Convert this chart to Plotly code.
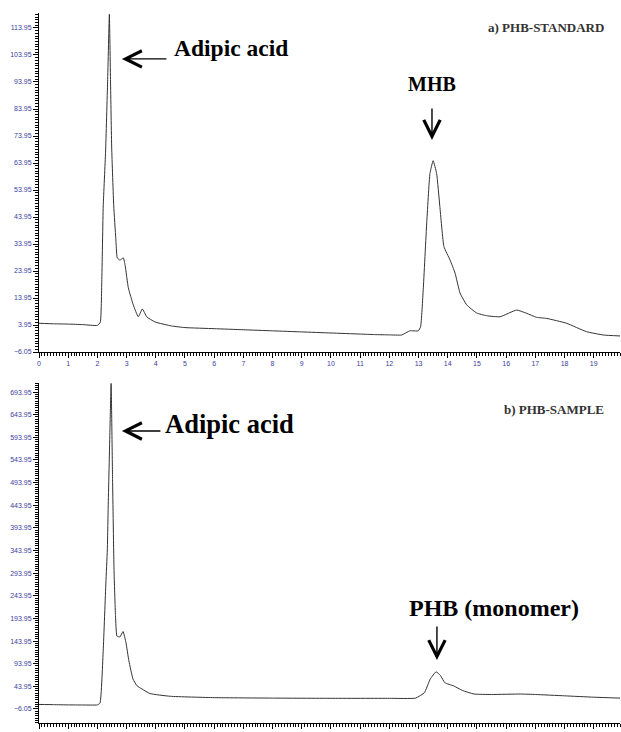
import plotly.graph_objects as go
from plotly.subplots import make_subplots

# ---- data (retention time in min, detector response) ----
time_a = [0, 0.5, 1.0, 1.5, 2.0, 2.1, 2.15, 2.2, 2.28, 2.35, 2.41, 2.45, 2.49, 2.56, 2.63, 2.68,
          2.77, 2.89, 2.95, 3.06, 3.23, 3.40, 3.54, 3.69, 3.97, 4.54, 5, 6, 7, 8, 9, 10, 11, 11.5,
          12, 12.42, 12.7, 12.99, 13.07, 13.16, 13.28, 13.39, 13.5, 13.62, 13.73, 13.87, 14.08,
          14.25, 14.42, 14.65, 14.99, 15.33, 15.79, 16.36, 16.7, 17.04, 17.39, 18.07, 18.75,
          19.33, 19.9]
signal_a = [4.6, 4.4, 4.3, 4.1, 3.8, 5.0, 20, 48, 68, 94, 119, 94, 69.5, 48, 36, 28.8,
            28, 28.8, 26, 17.7, 11.4, 7, 9.9, 7, 5.1, 3.6, 3.0, 2.6, 2.2, 1.8, 1.4, 1.0, 0.6, 0.4,
            0.3, 0.25, 1.8, 1.8, 3.3, 17, 41.7, 60, 64.8, 60, 47.8, 33, 28,
            23.2, 15.8, 11.4, 8.4, 7.4, 7.0, 9.5, 8.3, 6.8, 6.4, 4.6, 1.5,
            0.25, -0.1]

time_b = [0, 0.5, 1.0, 1.5, 2.0, 2.09, 2.2, 2.29, 2.34, 2.37, 2.43, 2.47, 2.52, 2.57, 2.62,
          2.67, 2.77, 2.88, 2.98, 3.08, 3.22, 3.36, 3.53, 3.8, 4.5, 6, 8, 10, 12, 12.9, 13.2,
          13.4, 13.6, 13.75, 13.9, 14.2, 14.5, 14.9, 15.5, 16.5, 17.0, 18.0, 19.0, 19.9]
signal_b = [4, 3.5, 3, 2.8, 3, 7, 124, 272, 345, 440, 610, 713, 500, 300, 200,
            155, 153, 165, 140, 100, 60, 45, 38, 28, 22, 19, 18, 17.5, 17.5, 18, 30,
            60, 76, 68, 52, 45, 35, 27, 26, 27, 26, 23, 20, 18]

x_ticks = list(range(0, 20))

W, H = 621, 732
fig = make_subplots(rows=2, cols=1)
fig.add_trace(go.Scatter(x=time_a, y=signal_a, mode="lines",
                         line=dict(color="#333333", width=1, shape="spline", smoothing=0.4),
                         showlegend=False), row=1, col=1)
fig.add_trace(go.Scatter(x=time_b, y=signal_b, mode="lines",
                         line=dict(color="#333333", width=1, shape="spline", smoothing=0.4),
                         showlegend=False), row=2, col=1)

tickfont = dict(family="Liberation Sans, Arial", size=7, color="#3d3d9e")
xcommon = dict(range=[0, 19.9], tickmode="array", tickvals=x_ticks, ticktext=[str(t) for t in x_ticks],
               showgrid=False, zeroline=False, showline=True, linecolor="black", linewidth=1,
               automargin=False,
               ticks="outside", ticklen=5, tickcolor="black", tickwidth=1, tickfont=tickfont,
               minor=dict(dtick=0.1, tick0=0, ticks="outside", ticklen=3, tickcolor="black", showgrid=False))
fig.update_xaxes(**xcommon, row=1, col=1)
fig.update_xaxes(**xcommon, row=2, col=1)

ycommon = dict(showgrid=False, zeroline=False, showline=True, linecolor="black", linewidth=1,
               automargin=False,
               ticks="outside", ticklen=5, tickcolor="black", tickwidth=1, tickfont=tickfont,
               tickformat=".2f")
fig.update_yaxes(**ycommon, range=[-6.05, 119.5], tick0=3.95, dtick=10,
                 minor=dict(tick0=3.95, dtick=1, ticks="outside", ticklen=3, tickcolor="black", showgrid=False),
                 row=1, col=1)
fig.update_yaxes(**ycommon, range=[-37, 714], tick0=-6.05, dtick=50,
                 minor=dict(tick0=-6.05, dtick=5, ticks="outside", ticklen=3, tickcolor="black", showgrid=False),
                 row=2, col=1)

fig.update_layout(
    width=W, height=H, margin=dict(l=39, r=1, t=13, b=9, autoexpand=False),
    paper_bgcolor="white", plot_bgcolor="white",
    xaxis=dict(domain=[0, 1], anchor="y"), yaxis=dict(domain=[0.5225, 1.0], anchor="x"),
    xaxis2=dict(domain=[0, 1], anchor="y2"), yaxis2=dict(domain=[0.0, 0.4789], anchor="x2"),
)

small = dict(family="Liberation Serif, Times New Roman", size=13, color="#333333")


def big(sz):
    return dict(family="Liberation Serif, Times New Roman", size=sz, color="black")


arrow = dict(showarrow=True, arrowhead=5, arrowsize=2.3, arrowwidth=1.4, arrowcolor="black",
             axref="pixel", ayref="pixel", text="")

annots = [
    # panel a
    dict(xref="x", yref="y", x=19.42, y=114.3, text="<b>a) PHB-STANDARD</b>", showarrow=False,
         xanchor="right", yanchor="middle", font=small),
    dict(xref="x", yref="y", x=4.55, y=106.5, text="<b>Adipic acid</b>", showarrow=False,
         xanchor="left", yanchor="middle", font=big(23.5)),
    dict(xref="x", yref="y", x=2.84, y=102.5, ax=46, ay=0, **arrow),
    dict(xref="x", yref="y", x=13.46, y=93.2, text="<b>MHB</b>", showarrow=False,
         xanchor="center", yanchor="middle", font=big(20)),
    dict(xref="x", yref="y", x=13.46, y=72.5, ax=0, ay=-33, **arrow),
    # panel b
    dict(xref="x2", yref="y2", x=19.42, y=656, text="<b>b) PHB-SAMPLE</b>", showarrow=False,
         xanchor="right", yanchor="middle", font=small),
    dict(xref="x2", yref="y2", x=4.25, y=623, text="<b>Adipic acid</b>", showarrow=False,
         xanchor="left", yanchor="middle", font=big(26.5)),
    dict(xref="x2", yref="y2", x=2.84, y=608, ax=40, ay=0, **arrow),
    dict(xref="x2", yref="y2", x=12.6, y=217, text="<b>PHB (monomer)</b>", showarrow=False,
         xanchor="left", yanchor="middle", font=big(24)),
    dict(xref="x2", yref="y2", x=13.63, y=102, ax=0, ay=-35, **arrow),
]
fig.update_layout(annotations=annots)

fig.write_html("out.html")
